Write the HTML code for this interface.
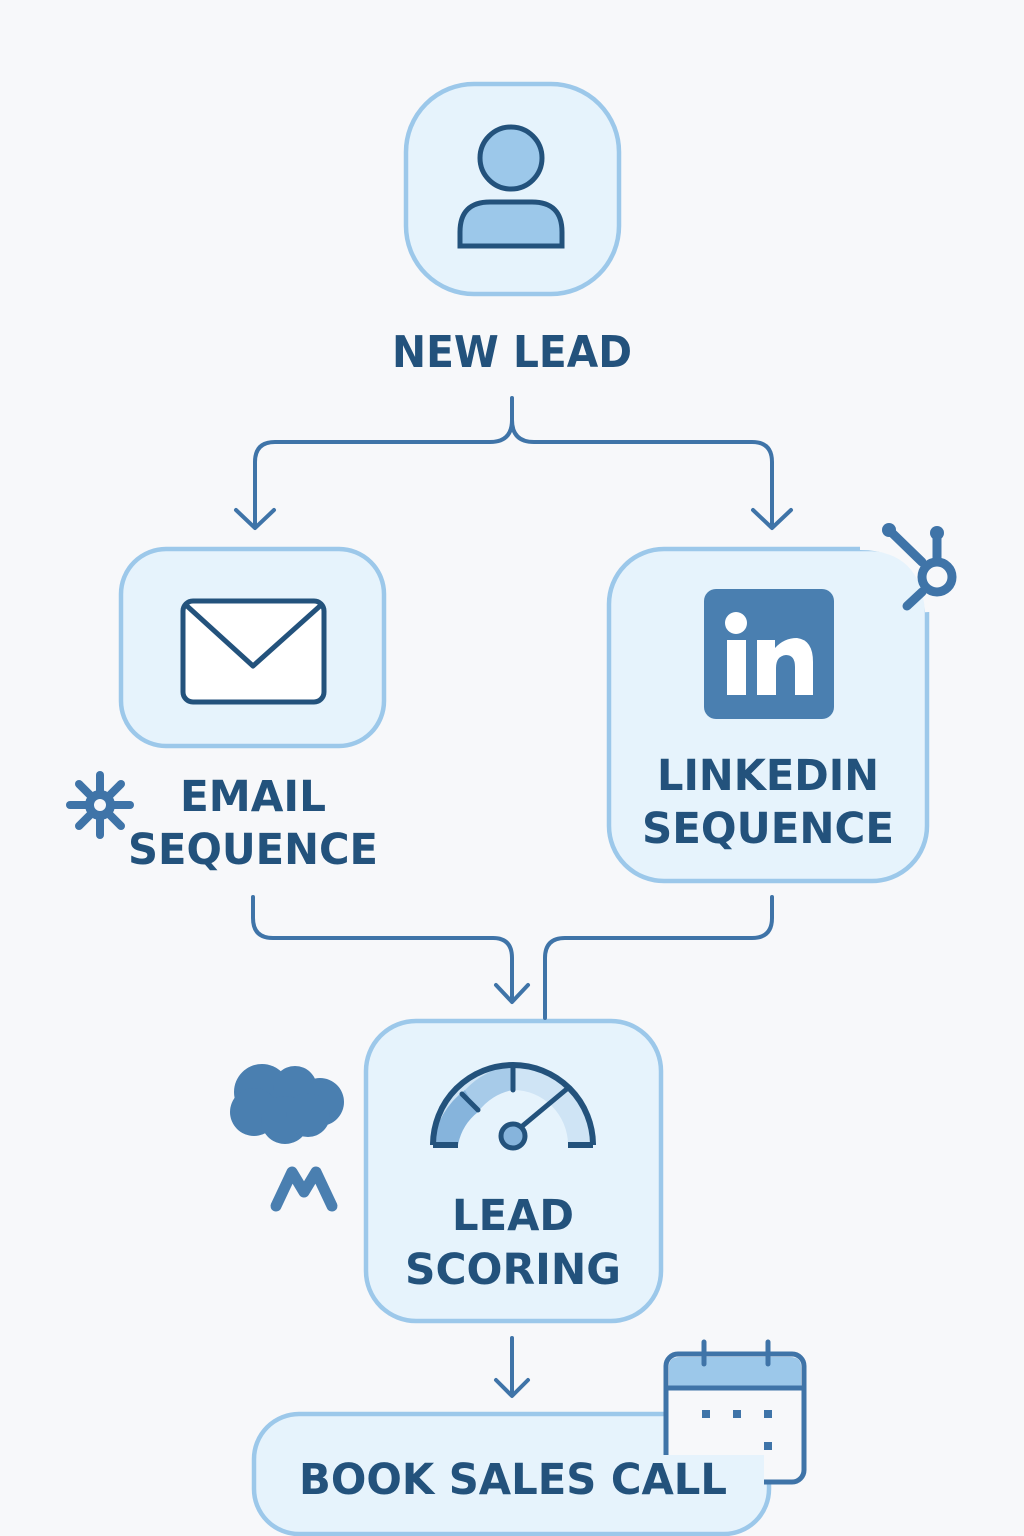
<!DOCTYPE html>
<html><head><meta charset="utf-8"><style>
html,body{margin:0;padding:0;background:#f7f8fa}
svg{display:block}
text{font-family:"DejaVu Sans","Liberation Sans",sans-serif;font-weight:bold;fill:#23527c;text-anchor:middle}
</style></head><body>
<svg width="1024" height="1536" viewBox="0 0 1024 1536">
<rect width="1024" height="1536" fill="#f7f8fa"/>
<g fill="#e6f3fc" stroke="#9cc8ea" stroke-width="4.5">
<rect x="406" y="84" width="213" height="210" rx="68"/>
<rect x="121" y="549" width="263" height="197" rx="45"/>
<rect x="609" y="549" width="318" height="332" rx="55"/>
<rect x="366" y="1021" width="295" height="300" rx="50"/>
<rect x="254" y="1414" width="515" height="120" rx="45"/>
</g>
<path d="M860 546 Q925 546 929 612" stroke="#f7f8fa" stroke-width="8" fill="none"/>
<!-- person -->
<g fill="#9cc8ea" stroke="#23527c" stroke-width="5">
<circle cx="511" cy="158" r="31"/>
<path d="M460 246 L460 232 Q460 202 490 202 L532 202 Q562 202 562 232 L562 246 Z"/>
</g>
<text x="512" y="367" font-size="44" textLength="240" lengthAdjust="spacingAndGlyphs">NEW LEAD</text>
<g fill="none" stroke="#3f74a8" stroke-width="4" stroke-linecap="round" stroke-linejoin="round">
<path d="M512 398 L512 420 Q512 442 490 442 L275 442 Q255 442 255 462 L255 525"/>
<path d="M512 420 Q512 442 534 442 L752 442 Q772 442 772 462 L772 525"/>
<path d="M236 510 L255 528 L274 510"/>
<path d="M753 510 L772 528 L791 510"/>
<path d="M253 897 L253 918 Q253 938 273 938 L493 938 Q512 938 512 958 L512 1000"/>
<path d="M496 985 L512 1002 L528 985"/>
<path d="M772 897 L772 918 Q772 938 752 938 L565 938 Q545 938 545 958 L545 1018"/>
<path d="M512 1338 L512 1395"/>
<path d="M496 1380 L512 1396 L528 1380"/>
</g>
<g fill="#fff" stroke="#23527c" stroke-width="5" stroke-linejoin="round">
<rect x="183" y="601" width="141" height="101" rx="10"/>
<path d="M187 606 L253 666 L320 606" fill="none"/>
</g>
<text x="253" y="811" font-size="43" textLength="146" lengthAdjust="spacingAndGlyphs">EMAIL</text>
<text x="253" y="864" font-size="43" textLength="250" lengthAdjust="spacingAndGlyphs">SEQUENCE</text>
<g stroke="#3f74a8" stroke-width="8" stroke-linecap="round">
<line x1="100" y1="775" x2="100" y2="835"/><line x1="70" y1="805" x2="130" y2="805"/>
<line x1="79" y1="784" x2="121" y2="826"/><line x1="79" y1="826" x2="121" y2="784"/>
</g>
<circle cx="100" cy="805" r="15" fill="#3f74a8"/><circle cx="100" cy="805" r="6" fill="#f7f8fa"/>
<rect x="704" y="589" width="130" height="130" rx="12" fill="#4a7fb0"/>
<circle cx="736" cy="623" r="11" fill="#fff"/>
<rect x="727" y="640" width="19" height="55" fill="#fff"/>
<path d="M757 695 L757 640 L775 640 L775 648 Q784 638 797 638 Q813 640 813 662 L813 695 L795 695 L795 667 Q795 655 786 655 Q776 656 776 668 L776 695 Z" fill="#fff"/>
<text x="768" y="790" font-size="43" textLength="222" lengthAdjust="spacingAndGlyphs">LINKEDIN</text>
<text x="768" y="843" font-size="43" textLength="252" lengthAdjust="spacingAndGlyphs">SEQUENCE</text>
<g stroke="#3f74a8" stroke-width="9" stroke-linecap="round" fill="none">
<line x1="889" y1="530" x2="922" y2="562"/>
<line x1="937" y1="535" x2="937" y2="560"/>
<line x1="922" y1="592" x2="907" y2="606"/>
<circle cx="937" cy="577" r="15"/>
</g>
<circle cx="889" cy="530" r="7" fill="#3f74a8"/><circle cx="937" cy="533" r="7" fill="#3f74a8"/>
<g fill="#4a7fb0">
<circle cx="262" cy="1092" r="28"/><circle cx="295" cy="1088" r="22"/><circle cx="320" cy="1102" r="24"/>
<circle cx="254" cy="1112" r="24"/><circle cx="285" cy="1120" r="24"/><circle cx="308" cy="1115" r="22"/>
</g>
<path d="M276 1206 L292 1172 L304 1192 L316 1172 L332 1206" fill="none" stroke="#4a7fb0" stroke-width="11" stroke-linecap="round" stroke-linejoin="round"/>
<path d="M433 1145 A80 80 0 0 1 593 1145 L568 1145 A55 55 0 0 0 458 1145 Z" fill="#cfe4f5"/>
<path d="M433 1145 A80 80 0 0 1 465 1090 L478 1112 A55 55 0 0 0 458 1145 Z" fill="#86b4dc"/>
<path d="M465 1090 A80 80 0 0 1 513 1065 L513 1090 A55 55 0 0 0 478 1112 Z" fill="#a7cbe9"/>
<path d="M433 1145 A80 80 0 0 1 593 1145" fill="none" stroke="#23527c" stroke-width="6"/>
<path d="M433 1145 L458 1145 M568 1145 L593 1145" stroke="#23527c" stroke-width="6"/>
<g stroke="#23527c" stroke-width="5" stroke-linecap="round">
<line x1="513" y1="1065" x2="513" y2="1090"/><line x1="462" y1="1094" x2="478" y2="1110"/>
<line x1="520" y1="1128" x2="568" y2="1088"/>
</g>
<circle cx="513" cy="1136" r="12" fill="#86b4dc" stroke="#23527c" stroke-width="5"/>
<text x="513" y="1230" font-size="43" textLength="122" lengthAdjust="spacingAndGlyphs">LEAD</text>
<text x="513" y="1284" font-size="43" textLength="216" lengthAdjust="spacingAndGlyphs">SCORING</text>
<rect x="666" y="1354" width="138" height="128" rx="12" fill="#f7f8fa" stroke="#3f74a8" stroke-width="5"/>
<path d="M669 1388 L669 1366 Q669 1357 680 1357 L790 1357 Q801 1357 801 1366 L801 1388 Z" fill="#9cc8ea"/>
<line x1="668" y1="1388" x2="803" y2="1388" stroke="#3f74a8" stroke-width="5"/>
<g stroke="#3f74a8" stroke-width="5" stroke-linecap="round"><line x1="704" y1="1342" x2="704" y2="1364"/><line x1="768" y1="1342" x2="768" y2="1364"/></g>
<g fill="#3f74a8"><rect x="702" y="1410" width="8" height="8"/><rect x="733" y="1410" width="8" height="8"/><rect x="764" y="1410" width="8" height="8"/><rect x="764" y="1442" width="8" height="8"/></g>
<rect x="652" y="1455" width="112" height="30" fill="#e6f3fc"/>
<text x="513" y="1494" font-size="43" textLength="428" lengthAdjust="spacingAndGlyphs">BOOK SALES CALL</text>
</svg>
</body></html>
